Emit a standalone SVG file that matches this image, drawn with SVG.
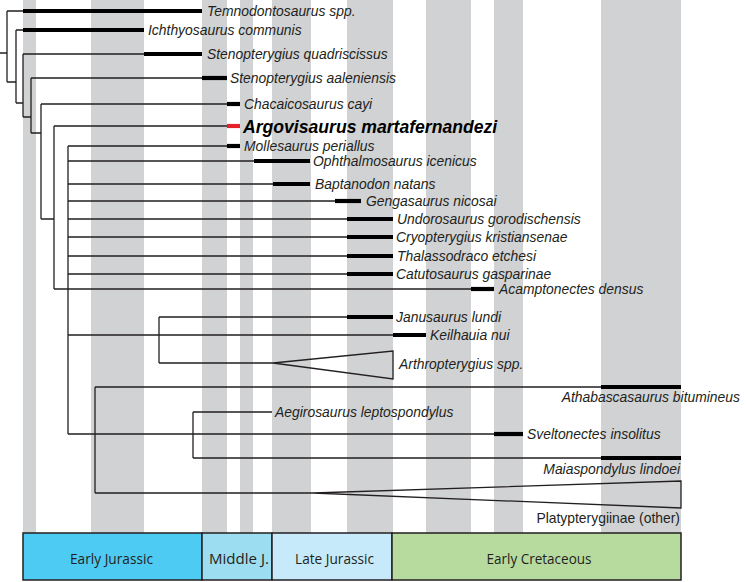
<svg xmlns="http://www.w3.org/2000/svg" width="746" height="582" viewBox="0 0 746 582">
<style>
.band{fill:#D1D2D4}
.ln{stroke:#231F20;stroke-width:1.3;fill:none}
.bar{stroke:#000;stroke-width:4.2}
.red{stroke:#E6212B;stroke-width:4.2}
.lb{font-family:"Liberation Sans",Arial,sans-serif;font-size:13.9px;font-style:italic;fill:#231F20}
.up{font-family:"Liberation Sans",Arial,sans-serif;font-size:13.9px;fill:#231F20}
.bold{font-family:"Liberation Sans",Arial,sans-serif;font-size:17.6px;font-style:italic;font-weight:bold;fill:#000}
.ts{font-family:"Open Sans","Liberation Sans",sans-serif;font-size:15px;fill:#231F20;text-anchor:middle}
.box{stroke:#231F20;stroke-width:1.5}
</style>
<rect width="746" height="582" fill="#fff"/>
<g id="bands">
<rect class="band" x="23" y="0" width="13" height="533"/>
<rect class="band" x="91" y="0" width="53" height="533"/>
<rect class="band" x="202" y="0" width="25" height="533"/>
<rect class="band" x="240" y="0" width="13" height="533"/>
<rect class="band" x="272" y="0" width="39" height="533"/>
<rect class="band" x="347" y="0" width="46" height="533"/>
<rect class="band" x="426" y="0" width="45" height="533"/>
<rect class="band" x="494" y="0" width="29" height="533"/>
<rect class="band" x="601" y="0" width="80" height="533"/>
</g>
<g id="connectors" class="ln">
<path d="M0 53H7M7 11V82M7 82H16M16 30V103M16 103H23M23 54V117M23 117H31M31 78V133M31 133H41M41 104V219M41 219H54M54 126V289M68 146V434M159 317V363M95 387V493M193 412V458"/>
<path d="M7 11H23M16 30H23M23 54H144M31 78H202M41 104H227M54 126H227M68 146H227M68 161H254M68 184H273M68 201H335M68 219H347M68 237H347M68 256H347M68 274H347M54 289H471M159 317H347M68 335H393M159 363H273M95 387H601M193 412H272M68 434H494M193 458H601M95 493H313"/>
</g>
<g id="t1"><line class="bar" x1="23" y1="11" x2="202" y2="11"/><text class="lb" x="207" y="16">Temnodontosaurus spp.</text></g>
<g id="t2"><line class="bar" x1="23" y1="30" x2="144" y2="30"/><text class="lb" x="148" y="35">Ichthyosaurus communis</text></g>
<g id="t3"><line class="bar" x1="144" y1="54" x2="202" y2="54"/><text class="lb" x="207" y="59">Stenopterygius quadriscissus</text></g>
<g id="t4"><line class="bar" x1="202" y1="78" x2="227" y2="78"/><text class="lb" x="230" y="83">Stenopterygius aaleniensis</text></g>
<g id="t5"><line class="bar" x1="227" y1="104" x2="240" y2="104"/><text class="lb" x="244" y="109">Chacaicosaurus cayi</text></g>
<g id="t6"><line class="red" x1="227" y1="126" x2="240" y2="126"/><text class="bold" x="243" y="132.5">Argovisaurus martafernandezi</text></g>
<g id="t7"><line class="bar" x1="227" y1="146" x2="240" y2="146"/><text class="lb" x="244" y="151">Mollesaurus periallus</text></g>
<g id="t8"><line class="bar" x1="254" y1="161" x2="310" y2="161"/><text class="lb" x="313" y="166">Ophthalmosaurus icenicus</text></g>
<g id="t9"><line class="bar" x1="273" y1="184" x2="310" y2="184"/><text class="lb" x="315" y="189">Baptanodon natans</text></g>
<g id="t10"><line class="bar" x1="335" y1="201" x2="361" y2="201"/><text class="lb" x="366" y="206">Gengasaurus nicosai</text></g>
<g id="t11"><line class="bar" x1="347" y1="219" x2="393" y2="219"/><text class="lb" x="397" y="224">Undorosaurus gorodischensis</text></g>
<g id="t12"><line class="bar" x1="347" y1="237" x2="393" y2="237"/><text class="lb" x="396" y="242">Cryopterygius kristiansenae</text></g>
<g id="t13"><line class="bar" x1="347" y1="256" x2="393" y2="256"/><text class="lb" x="397" y="261">Thalassodraco etchesi</text></g>
<g id="t14"><line class="bar" x1="347" y1="274" x2="393" y2="274"/><text class="lb" x="396" y="279">Catutosaurus gasparinae</text></g>
<g id="t15"><line class="bar" x1="471" y1="289" x2="494" y2="289"/><text class="lb" x="499" y="294">Acamptonectes densus</text></g>
<g id="t16"><line class="bar" x1="347" y1="317" x2="393" y2="317"/><text class="lb" x="396" y="322">Janusaurus lundi</text></g>
<g id="t17"><line class="bar" x1="393" y1="335" x2="426" y2="335"/><text class="lb" x="430" y="340">Keilhauia nui</text></g>
<g id="t18"><polygon class="ln" points="273,363 393,351 393,379"/><text class="lb" x="399" y="369">Arthropterygius spp.</text></g>
<g id="t19"><line class="bar" x1="601" y1="387" x2="681" y2="387"/><text class="lb" x="740" y="402" text-anchor="end">Athabascasaurus bitumineus</text></g>
<g id="t20"><text class="lb" x="275" y="417">Aegirosaurus leptospondylus</text></g>
<g id="t21"><line class="bar" x1="494" y1="434" x2="523" y2="434"/><text class="lb" x="527" y="439">Sveltonectes insolitus</text></g>
<g id="t22"><line class="bar" x1="601" y1="458" x2="681" y2="458"/><text class="lb" x="680" y="474" text-anchor="end">Maiaspondylus lindoei</text></g>
<g id="t23"><polygon class="ln" points="313,493 681,481 681,508"/><text class="up" x="680" y="523" text-anchor="end">Platypterygiinae (other)</text></g>
<g id="timescale">
<rect class="box" x="23" y="533" width="179" height="47" fill="#4DCBF2"/>
<rect class="box" x="202" y="533" width="70" height="47" fill="#9DDDF1"/>
<rect class="box" x="272" y="533" width="120" height="47" fill="#C6EAFA"/>
<rect class="box" x="392" y="533" width="289" height="47" fill="#B7DA9E"/>
<text class="ts" x="111.5" y="564" textLength="83" lengthAdjust="spacingAndGlyphs">Early Jurassic</text>
<text class="ts" x="239" y="564" textLength="60" lengthAdjust="spacingAndGlyphs">Middle J.</text>
<text class="ts" x="334.5" y="564" textLength="79" lengthAdjust="spacingAndGlyphs">Late Jurassic</text>
<text class="ts" x="539" y="564" textLength="105" lengthAdjust="spacingAndGlyphs">Early Cretaceous</text>
</g>
</svg>
